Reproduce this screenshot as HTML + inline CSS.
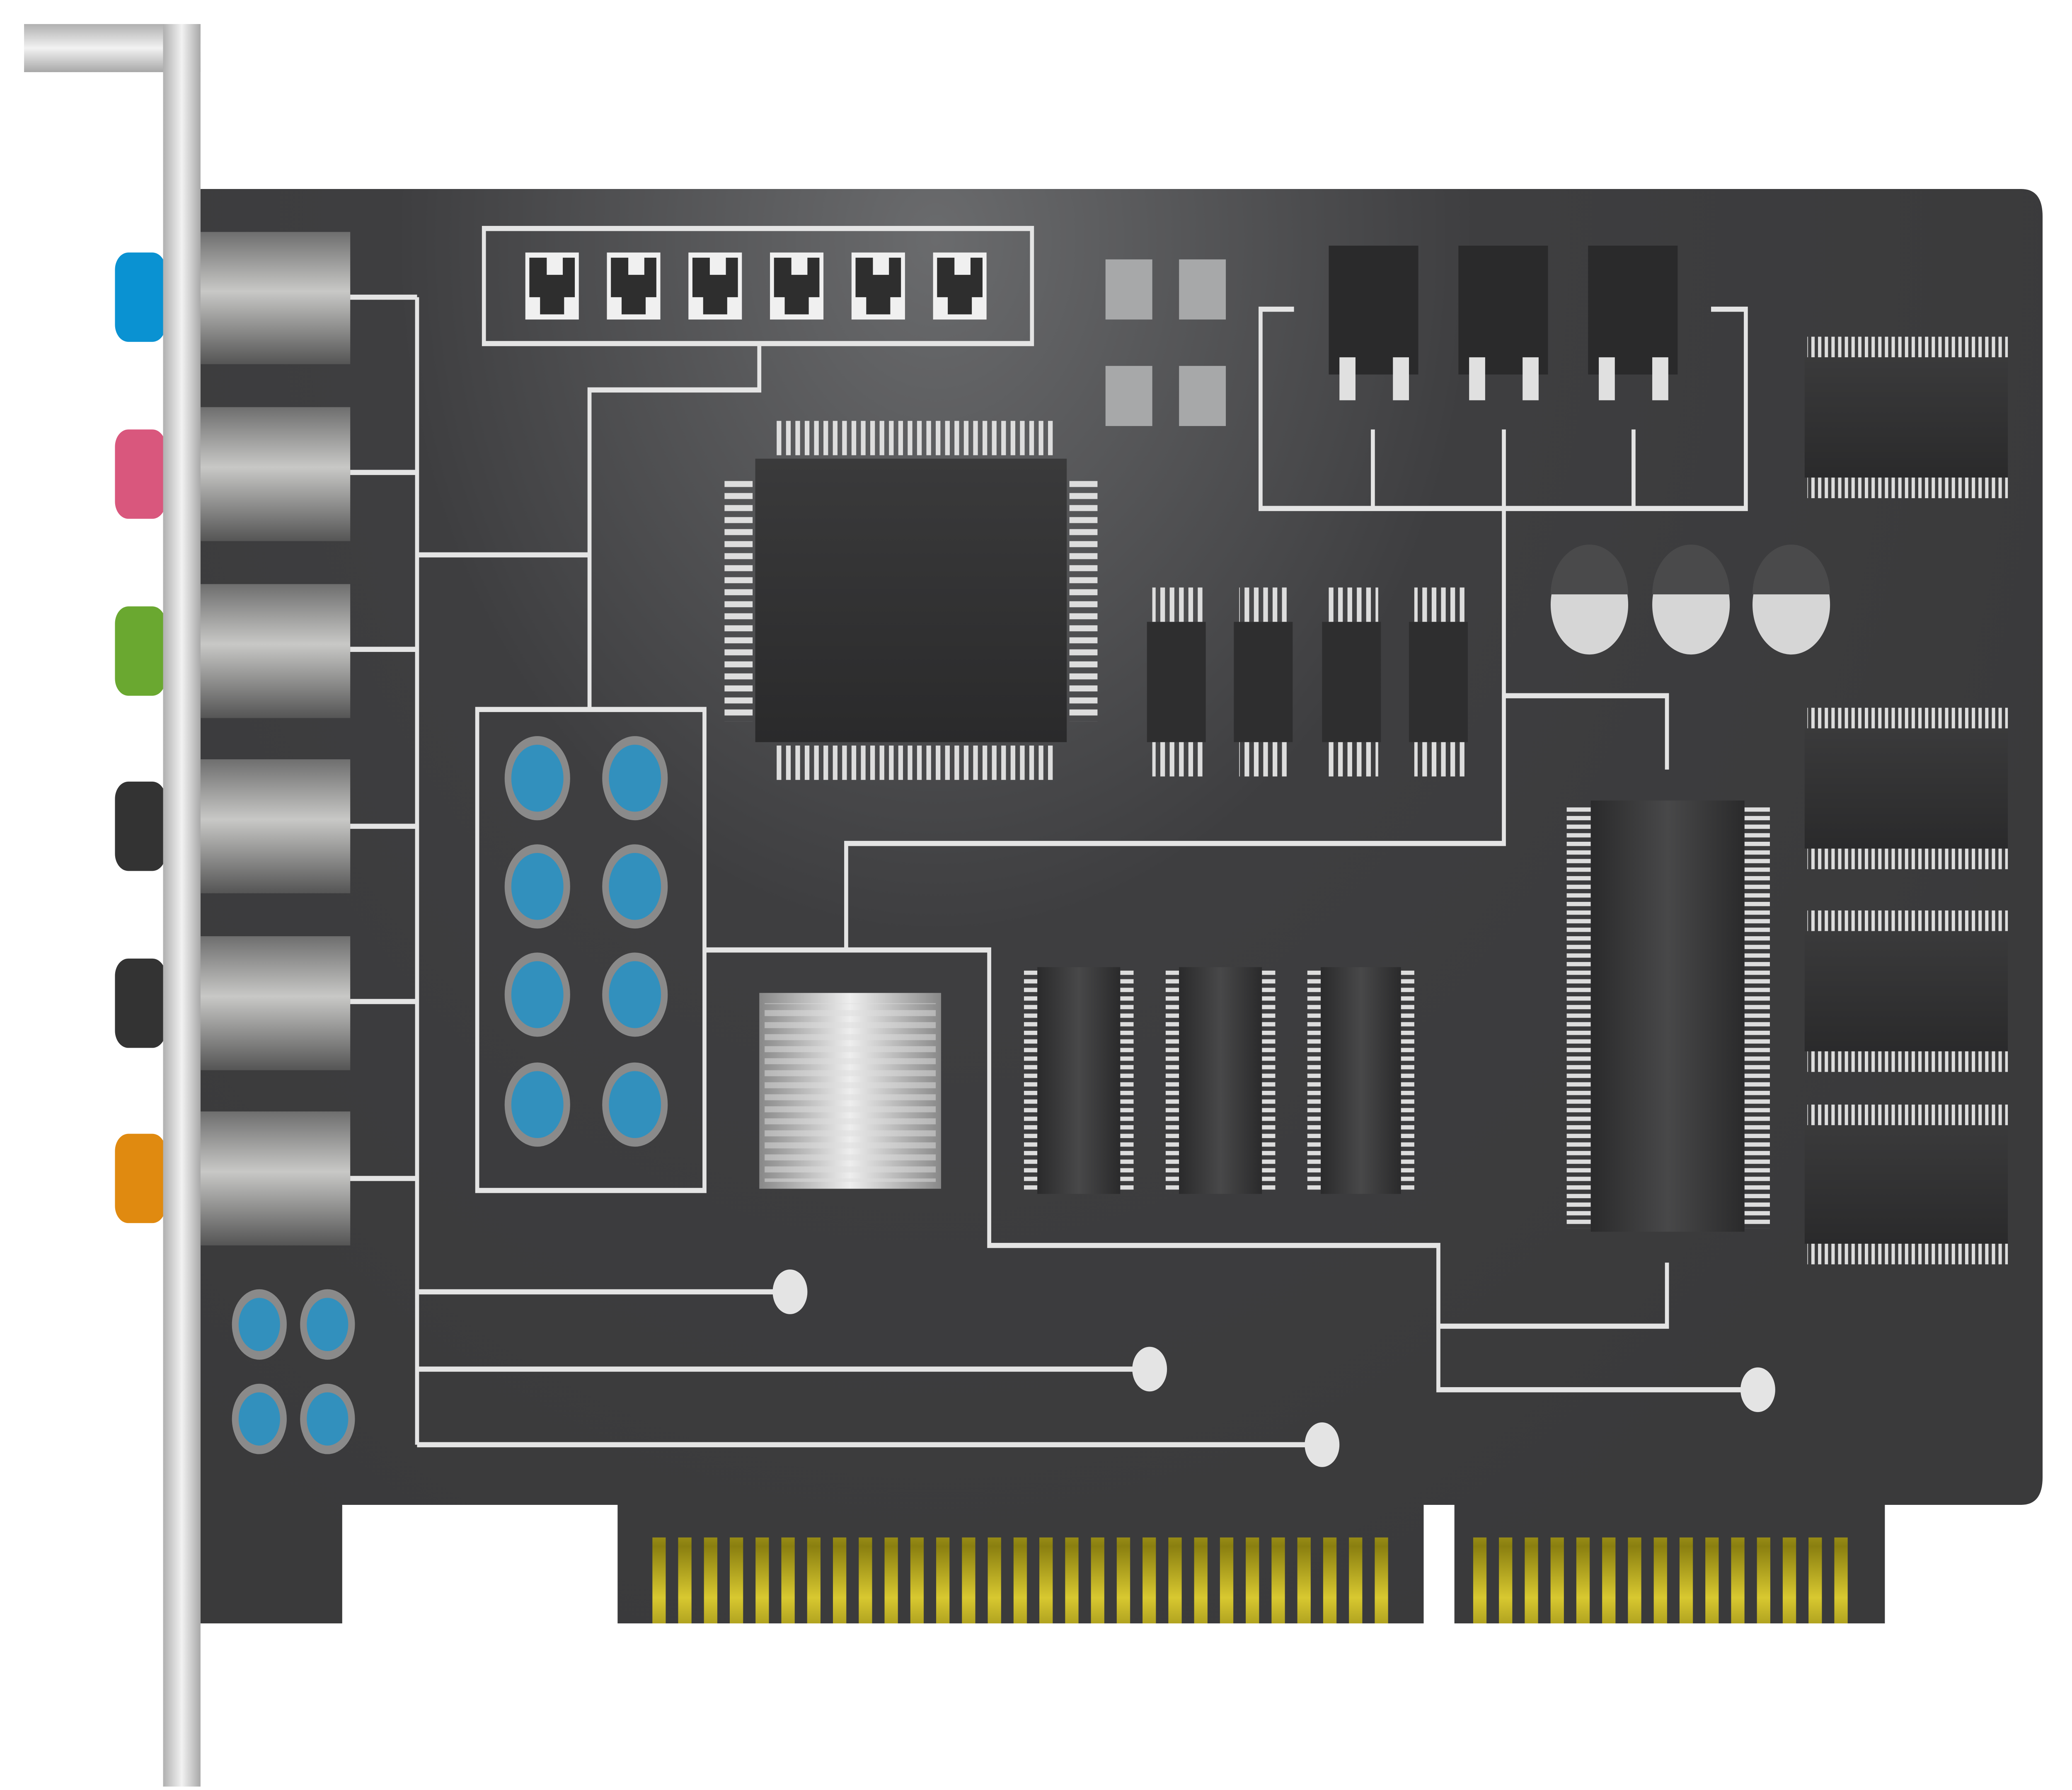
<!DOCTYPE html>
<html><head><meta charset="utf-8"><style>html,body{margin:0;padding:0;background:#fff;overflow:hidden;width:100%;height:100%}svg{display:block;width:100vw;height:100vh}</style></head>
<body>
<svg viewBox="0 0 1550 1042" preserveAspectRatio="none" xmlns="http://www.w3.org/2000/svg">
<defs>
<radialGradient id="board" cx="700" cy="140" r="900" gradientUnits="userSpaceOnUse">
<stop offset="0" stop-color="#6a6b6d"/><stop offset="0.45" stop-color="#3e3e40"/><stop offset="1" stop-color="#3a3a3b"/></radialGradient>
<linearGradient id="jack" x1="0" y1="0" x2="0" y2="1">
<stop offset="0" stop-color="#6e6e6e"/><stop offset="0.45" stop-color="#c8c8c6"/><stop offset="1" stop-color="#555"/></linearGradient>
<linearGradient id="brk" x1="0" y1="0" x2="1" y2="0">
<stop offset="0" stop-color="#b0b0b0"/><stop offset="0.5" stop-color="#f2f2f2"/><stop offset="1" stop-color="#a8a8a8"/></linearGradient>
<linearGradient id="brkh" x1="0" y1="0" x2="0" y2="1">
<stop offset="0" stop-color="#b0b0b0"/><stop offset="0.5" stop-color="#f2f2f2"/><stop offset="1" stop-color="#a8a8a8"/></linearGradient>
<linearGradient id="chip" x1="0" y1="0" x2="0" y2="1">
<stop offset="0" stop-color="#3a3a3b"/><stop offset="1" stop-color="#2a2a2b"/></linearGradient>
<linearGradient id="ram" x1="0" y1="0" x2="1" y2="0">
<stop offset="0" stop-color="#2a2a2b"/><stop offset="0.5" stop-color="#484849"/><stop offset="1" stop-color="#2a2a2b"/></linearGradient>
<linearGradient id="gold" x1="0" y1="0" x2="0" y2="1">
<stop offset="0" stop-color="#8a7f10"/><stop offset="0.5" stop-color="#d8c830"/><stop offset="1" stop-color="#8a7f10"/></linearGradient>
<pattern id="pinsV" width="7" height="20" patternUnits="userSpaceOnUse"><rect width="3.5" height="20" fill="#ddd"/></pattern>
<pattern id="pinsH" width="20" height="7" patternUnits="userSpaceOnUse"><rect width="20" height="3.5" fill="#ddd"/></pattern>
<pattern id="pinsH2" width="20" height="5" patternUnits="userSpaceOnUse"><rect width="20" height="2.5" fill="#ddd"/></pattern>
<pattern id="pinsV2" width="5" height="20" patternUnits="userSpaceOnUse"><rect width="2.5" height="20" fill="#ddd"/></pattern>
<pattern id="goldP" x="488" width="19.3" height="60" patternUnits="userSpaceOnUse"><rect width="10" height="60" fill="url(#gold)"/></pattern>
<pattern id="goldP2" x="1102" width="19.3" height="60" patternUnits="userSpaceOnUse"><rect width="10" height="60" fill="url(#gold)"/></pattern>
<linearGradient id="sink" x1="0" y1="0" x2="1" y2="0">
<stop offset="0" stop-color="#888"/><stop offset="0.5" stop-color="#eee"/><stop offset="1" stop-color="#888"/></linearGradient>
</defs>

<path d="M150 110 H1512 Q1528 110 1528 126 V860 Q1528 876 1512 876 H1410 V945 H1088 V876 H1065 V945 H462 V876 H256 V945 H150 Z" fill="url(#board)"/>
<rect x="488" y="895" width="552" height="50" fill="url(#goldP)"/>
<rect x="1102" y="895" width="285" height="50" fill="url(#goldP2)"/>

<rect x="18" y="14" width="132" height="28" fill="url(#brkh)"/>
<rect x="122" y="14" width="28" height="1026" fill="url(#brk)"/>

<g>
<rect x="86" y="147" width="38" height="52" rx="10" fill="#0a92d2"/>
<rect x="86" y="250" width="38" height="52" rx="10" fill="#d9577d"/>
<rect x="86" y="353" width="38" height="52" rx="10" fill="#6aa830"/>
<rect x="86" y="455" width="38" height="52" rx="10" fill="#333"/>
<rect x="86" y="558" width="38" height="52" rx="10" fill="#333"/>
<rect x="86" y="660" width="38" height="52" rx="10" fill="#e08a10"/>
<rect x="122" y="147" width="28" height="565" fill="url(#brk)"/>
<rect x="150" y="135" width="112" height="77" fill="url(#jack)"/>
<rect x="150" y="237" width="112" height="78" fill="url(#jack)"/>
<rect x="150" y="340" width="112" height="78" fill="url(#jack)"/>
<rect x="150" y="442" width="112" height="78" fill="url(#jack)"/>
<rect x="150" y="545" width="112" height="78" fill="url(#jack)"/>
<rect x="150" y="647" width="112" height="78" fill="url(#jack)"/>
</g>

<g fill="none" stroke="#e4e4e4" stroke-width="3">
<path d="M262 173 H312 M262 275 H312 M262 378 H312 M262 481 H312 M262 583 H312 M262 686 H312"/>
<path d="M312 173 V841"/>
<path d="M312 323 H441 V227 H568 V200 M441 323 V413"/>
<path d="M312 752 H590 M312 797 H860 M312 841 H989"/>
<rect x="362" y="133" width="410" height="67"/>
<rect x="357" y="413" width="170" height="280"/>
<path d="M527 553 H740 V725 H1076 V809 H1315"/>
<path d="M633 553 V491 H1125 V250 M1125 405 H1247 V448"/>
<path d="M1076 772 H1247 V735"/>
<path d="M968 180 H943 V296 H1306 V180 H1280 M1027 250 V296 M1222 250 V296"/>
</g>
<g fill="#e4e4e4">
<circle cx="591" cy="752" r="13"/><circle cx="860" cy="797" r="13"/><circle cx="989" cy="841" r="13"/><circle cx="1315" cy="809" r="13"/>
</g>

<g fill="#f0f0f0">
<rect x="393" y="147" width="40" height="39"/><rect x="454" y="147" width="40" height="39"/><rect x="515" y="147" width="40" height="39"/>
<rect x="576" y="147" width="40" height="39"/><rect x="637" y="147" width="40" height="39"/><rect x="698" y="147" width="40" height="39"/>
</g>
<g fill="#2e2e2e">
<path d="M396 150 h13 v10 h12 v-10 h9 v23 h-8 v10 h-18 v-10 h-8 z"/>
<path d="M457 150 h13 v10 h12 v-10 h9 v23 h-8 v10 h-18 v-10 h-8 z"/>
<path d="M518 150 h13 v10 h12 v-10 h9 v23 h-8 v10 h-18 v-10 h-8 z"/>
<path d="M579 150 h13 v10 h12 v-10 h9 v23 h-8 v10 h-18 v-10 h-8 z"/>
<path d="M640 150 h13 v10 h12 v-10 h9 v23 h-8 v10 h-18 v-10 h-8 z"/>
<path d="M701 150 h13 v10 h12 v-10 h9 v23 h-8 v10 h-18 v-10 h-8 z"/>
</g>

<g fill="#a7a8a9">
<rect x="827" y="151" width="35" height="35"/><rect x="882" y="151" width="35" height="35"/>
<rect x="827" y="213" width="35" height="35"/><rect x="882" y="213" width="35" height="35"/>
</g>

<rect x="994" y="143" width="67" height="75" fill="#2a2a2b"/>
<rect x="1091" y="143" width="67" height="75" fill="#2a2a2b"/>
<rect x="1188" y="143" width="67" height="75" fill="#2a2a2b"/>
<g fill="#e0e0e0">
<rect x="1002" y="208" width="12" height="25"/><rect x="1042" y="208" width="12" height="25"/>
<rect x="1099" y="208" width="12" height="25"/><rect x="1139" y="208" width="12" height="25"/>
<rect x="1196" y="208" width="12" height="25"/><rect x="1236" y="208" width="12" height="25"/>
</g>

<rect x="578" y="245" width="210" height="20" fill="url(#pinsV)"/>
<rect x="578" y="434" width="210" height="20" fill="url(#pinsV)"/>
<rect x="542" y="280" width="21" height="140" fill="url(#pinsH)"/>
<rect x="800" y="280" width="21" height="140" fill="url(#pinsH)"/>
<rect x="565" y="267" width="233" height="165" fill="url(#chip)"/>

<rect x="862" y="342" width="38" height="20" fill="url(#pinsV)"/><rect x="862" y="432" width="38" height="20" fill="url(#pinsV)"/>
<rect x="927" y="342" width="38" height="20" fill="url(#pinsV)"/><rect x="927" y="432" width="38" height="20" fill="url(#pinsV)"/>
<rect x="993" y="342" width="38" height="20" fill="url(#pinsV)"/><rect x="993" y="432" width="38" height="20" fill="url(#pinsV)"/>
<rect x="1058" y="342" width="38" height="20" fill="url(#pinsV)"/><rect x="1058" y="432" width="38" height="20" fill="url(#pinsV)"/>
<rect x="858" y="362" width="44" height="70" fill="#2e2e2f"/>
<rect x="923" y="362" width="44" height="70" fill="#2e2e2f"/>
<rect x="989" y="362" width="44" height="70" fill="#2e2e2f"/>
<rect x="1054" y="362" width="44" height="70" fill="#2e2e2f"/>

<circle cx="1189" cy="352" r="29" fill="#d6d6d6"/><path d="M1160 346 a29 29 0 0 1 58 0 z" fill="#4a4a4b"/>
<circle cx="1265" cy="352" r="29" fill="#d6d6d6"/><path d="M1236 346 a29 29 0 0 1 58 0 z" fill="#4a4a4b"/>
<circle cx="1340" cy="352" r="29" fill="#d6d6d6"/><path d="M1311 346 a29 29 0 0 1 58 0 z" fill="#4a4a4b"/>

<g fill="#3290bd" stroke="#8a8a8a" stroke-width="5">
<circle cx="402" cy="453" r="22"/><circle cx="475" cy="453" r="22"/>
<circle cx="402" cy="516" r="22"/><circle cx="475" cy="516" r="22"/>
<circle cx="402" cy="579" r="22"/><circle cx="475" cy="579" r="22"/>
<circle cx="402" cy="643" r="22"/><circle cx="475" cy="643" r="22"/>
<circle cx="194" cy="771" r="18"/><circle cx="245" cy="771" r="18"/>
<circle cx="194" cy="826" r="18"/><circle cx="245" cy="826" r="18"/>
</g>

<rect x="568" y="578" width="136" height="114" fill="url(#sink)"/>
<rect x="572" y="584" width="128" height="104" fill="url(#pinsH)" opacity="0.5"/>

<rect x="766" y="565" width="10" height="128" fill="url(#pinsH2)"/><rect x="838" y="565" width="10" height="128" fill="url(#pinsH2)"/>
<rect x="872" y="565" width="10" height="128" fill="url(#pinsH2)"/><rect x="944" y="565" width="10" height="128" fill="url(#pinsH2)"/>
<rect x="978" y="565" width="10" height="128" fill="url(#pinsH2)"/><rect x="1048" y="565" width="10" height="128" fill="url(#pinsH2)"/>
<rect x="776" y="563" width="62" height="132" fill="url(#ram)"/>
<rect x="882" y="563" width="62" height="132" fill="url(#ram)"/>
<rect x="988" y="563" width="60" height="132" fill="url(#ram)"/>

<rect x="1172" y="470" width="18" height="245" fill="url(#pinsH2)"/>
<rect x="1305" y="470" width="19" height="245" fill="url(#pinsH2)"/>
<rect x="1190" y="466" width="115" height="251" fill="url(#ram)"/>

<rect x="1352" y="196" width="150" height="12" fill="url(#pinsV2)"/><rect x="1350" y="208" width="152" height="70" fill="url(#chip)"/><rect x="1352" y="278" width="150" height="12" fill="url(#pinsV2)"/>
<rect x="1352" y="412" width="150" height="12" fill="url(#pinsV2)"/><rect x="1350" y="424" width="152" height="70" fill="url(#chip)"/><rect x="1352" y="494" width="150" height="12" fill="url(#pinsV2)"/>
<rect x="1352" y="530" width="150" height="12" fill="url(#pinsV2)"/><rect x="1350" y="542" width="152" height="70" fill="url(#chip)"/><rect x="1352" y="612" width="150" height="12" fill="url(#pinsV2)"/>
<rect x="1352" y="643" width="150" height="12" fill="url(#pinsV2)"/><rect x="1350" y="655" width="152" height="69" fill="url(#chip)"/><rect x="1352" y="724" width="150" height="12" fill="url(#pinsV2)"/>
</svg>
</body></html>
